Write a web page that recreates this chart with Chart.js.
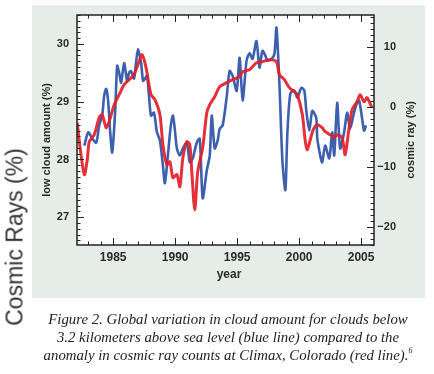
<!DOCTYPE html>
<html><head><meta charset="utf-8">
<script src="https://cdn.jsdelivr.net/npm/chart.js@4.4.1/dist/chart.umd.min.js"></script>
<style>
html,body{margin:0;padding:0;background:#fff;overflow:hidden;width:434px;height:374px;}
#wrap{position:relative;width:434px;height:374px;}
#panel{position:absolute;left:32px;top:5px;width:393px;height:293px;background:#e6ece8;}
#cv{position:absolute;left:0;top:0;}
#side{position:absolute;left:15px;top:237px;transform:translate(-50%,-50%) rotate(-90deg);white-space:nowrap;font:23px "Liberation Sans",Arial,sans-serif;color:#333;}
#cap{position:absolute;left:22px;top:310px;width:412px;text-align:center;font:italic 14.8px/18px "Liberation Serif","Times New Roman",serif;color:#222;white-space:nowrap;}
#cap sup{font-size:8px;vertical-align:top;line-height:10px;}
</style></head><body>
<div id="wrap">
<div id="panel"></div>
<canvas id="cv" width="434" height="290"></canvas>
<div id="side">Cosmic Rays (%)</div>
<div id="cap">Figure 2. Global variation in cloud amount for clouds below<br>3.2 kilometers above sea level (blue line) compared to the<br>anomaly in cosmic ray counts at Climax, Colorado (red line).<sup>6</sup></div>
</div>
<script>
// ---- data ----
const cloudYears = [1982.67,1982.99,1983.31,1983.63,1983.87,1984.11,1984.27,1984.43,1984.59,1984.75,1984.92,1985.16,1985.32,1985.48,1985.64,1985.88,1986.12,1986.28,1986.44,1986.68,1986.84,1987.00,1987.25,1987.41,1987.57,1987.73,1987.89,1988.05,1988.29,1988.53,1988.77,1989.01,1989.17,1989.41,1989.65,1989.82,1989.98,1990.14,1990.38,1990.62,1990.94,1991.18,1991.42,1991.74,1991.98,1992.22,1992.55,1992.79,1992.95,1993.19,1993.43,1993.59,1993.83,1994.15,1994.39,1994.63,1994.96,1995.20,1995.44,1995.76,1996.00,1996.24,1996.56,1996.80,1997.04,1997.29,1997.45,1997.77,1998.01,1998.17,1998.41,1998.65,1998.89,1999.05,1999.29,1999.61,1999.86,2000.18,2000.42,2000.58,2000.82,2001.06,2001.38,2001.46,2001.70,2001.86,2002.10,2002.43,2002.67,2002.83,2003.07,2003.31,2003.63,2003.87,2004.11,2004.43,2004.67,2004.84,2005.08,2005.24,2005.40];
const cloudPct = [28.24,28.47,28.36,28.29,28.59,28.76,29.10,29.22,29.02,28.50,28.12,28.84,29.62,29.50,29.33,29.67,29.36,29.50,29.53,29.40,29.67,29.91,29.67,29.36,29.40,29.45,29.10,28.76,28.81,28.47,28.33,27.90,27.59,28.07,28.59,28.76,28.50,28.19,28.07,28.19,28.29,27.95,28.02,28.29,28.36,27.33,27.81,28.07,28.76,28.19,28.33,28.53,28.59,29.07,29.53,29.45,29.19,29.76,29.02,29.71,29.84,29.74,30.05,29.59,29.88,29.79,29.71,29.74,29.83,30.28,29.31,27.98,27.47,28.45,29.14,29.19,29.07,29.24,29.19,28.84,28.50,28.84,28.72,28.38,28.07,27.95,28.24,28.02,28.47,28.07,28.98,28.19,28.47,28.81,28.53,28.81,28.98,29.02,28.71,28.50,28.59];
const crYears = [1982.10,1982.35,1982.67,1982.91,1983.07,1983.47,1983.87,1984.11,1984.43,1984.67,1985.08,1985.48,1985.88,1986.28,1986.68,1987.08,1987.33,1987.65,1988.05,1988.37,1988.77,1989.01,1989.33,1989.57,1989.82,1990.14,1990.38,1990.62,1990.94,1991.18,1991.34,1991.58,1991.82,1992.22,1992.55,1992.79,1993.19,1993.59,1994.15,1994.63,1995.20,1995.44,1996.00,1996.56,1997.04,1997.61,1998.17,1998.41,1998.81,1999.21,1999.61,1999.86,2000.26,2000.50,2000.66,2000.90,2001.14,2001.46,2001.86,2002.10,2002.51,2002.83,2003.07,2003.47,2003.71,2004.03,2004.27,2004.67,2004.92,2005.24,2005.48,2005.88];
const crPct = [-2.67,-7.17,-11.33,-8.83,-5.83,-4.67,-1.83,-1.33,-3.5,-2.5,0.33,2.0,3.67,4.5,5.33,7.5,8.67,6.5,2.0,1.17,-1.33,-6.33,-9.67,-9.17,-11.83,-11.33,-13.33,-8.5,-5.83,-6.33,-10.83,-17.17,-10.83,-6.83,-1.0,0.33,1.67,3.33,4.0,4.5,5.0,5.83,6.17,7.33,7.5,7.83,7.5,5.33,4.5,3.17,2.5,2.0,-1.33,-5.83,-7.17,-5.5,-3.83,-3.0,-3.5,-4.17,-4.67,-5.17,-4.67,-5.17,-8.0,-3.5,-0.5,0.83,2.0,0.83,1.5,-0.17];
const xTicks = [1985,1990,1995,2000,2005];
const leftTicks = [27,28,29,30];
const rightTicks = [-20,-10,0,10];
const xTitle = 'year';
const leftTitle = 'low cloud amount (%)';
const rightTitle = 'cosmic ray (%)';

const FONT = '"Liberation Sans",Arial,sans-serif';
const INK = '#2a2a2a';

const frame = {
  id: 'frame',
  beforeDraw(chart) {
    const {ctx, chartArea: a} = chart;
    ctx.save();
    ctx.fillStyle = '#ffffff';
    ctx.fillRect(a.left, a.top, a.right - a.left, a.bottom - a.top);
    ctx.restore();
  },
  afterDatasetsDraw(chart) {
    const {ctx, chartArea: a, scales} = chart;
    ctx.save();
    ctx.strokeStyle = '#222';
    ctx.lineWidth = 1;
    ctx.beginPath();
    const xs = scales.x;
    for (let yr = 1982; yr <= 2006; yr++) {
      const px = Math.round(xs.getPixelForValue(yr)) + 0.5;
      if (px < a.left + 1 || px > a.right - 1) continue;
      const len = yr % 5 === 0 ? 7 : 3.5;
      ctx.moveTo(px, a.bottom); ctx.lineTo(px, a.bottom - len);
      ctx.moveTo(px, a.top); ctx.lineTo(px, a.top + len);
    }
    const yl = scales.y;
    for (let k = 265; k <= 305; k++) {
      const v = k / 10;
      if (v < yl.min || v > yl.max) continue;
      const py = Math.round(yl.getPixelForValue(v)) + 0.5;
      const len = k % 10 === 0 ? 7 : 3.5;
      ctx.moveTo(a.left, py); ctx.lineTo(a.left + len, py);
    }
    const yr2 = scales.y2;
    for (let v = -23; v <= 15; v++) {
      if (v < yr2.min || v > yr2.max) continue;
      const py = Math.round(yr2.getPixelForValue(v)) + 0.5;
      const len = v % 10 === 0 ? 7 : 3.5;
      ctx.moveTo(a.right, py); ctx.lineTo(a.right - len, py);
    }
    ctx.stroke();
    ctx.lineWidth = 1.5;
    ctx.strokeRect(a.left, a.top, a.right - a.left, a.bottom - a.top);
    // axis titles
    ctx.fillStyle = INK;
    ctx.textAlign = 'center';
    ctx.textBaseline = 'middle';
    ctx.font = 'bold 12px ' + FONT;
    ctx.fillText(xTitle, 229, 275);
    ctx.font = 'bold 11px ' + FONT;
    ctx.save(); ctx.translate(47, 140); ctx.rotate(-Math.PI / 2); ctx.fillText(leftTitle, 0, 0); ctx.restore();
    ctx.save(); ctx.translate(411, 140); ctx.rotate(-Math.PI / 2); ctx.fillText(rightTitle, 0, 0); ctx.restore();
    ctx.restore();
  }
};

const tickFont = {family: FONT, size: 12, weight: 'bold'};
const yFont = {family: FONT, size: 11, weight: 'bold'};

new Chart(document.getElementById('cv'), {
  type: 'line',
  data: {
    datasets: [
      {
        label: 'cosmic ray',
        data: crYears.map((x, i) => ({x, y: crPct[i]})),
        yAxisID: 'y2',
        borderColor: 'rgba(226,32,40,0.92)',
        borderWidth: 3,
        pointRadius: 0,
        tension: 0.25,
        order: 0
      },
      {
        label: 'low cloud',
        data: cloudYears.map((x, i) => ({x, y: cloudPct[i]})),
        yAxisID: 'y',
        borderColor: '#3c5fb0',
        borderWidth: 2.6,
        pointRadius: 0,
        tension: 0.25,
        order: 1
      }
    ]
  },
  options: {
    responsive: false,
    animation: false,
    events: [],
    layout: {padding: {top: 15, left: 0, right: 38, bottom: 0}},
    plugins: {legend: {display: false}, tooltip: {enabled: false}},
    scales: {
      x: {
        type: 'linear', position: 'bottom', min: 1982.08, max: 2006.04,
        grid: {display: false, drawTicks: false}, border: {display: false},
        afterBuildTicks: s => { s.ticks = xTicks.map(v => ({value: v})); },
        afterFit: s => { s.height = 45; },
        ticks: {font: tickFont, color: INK, padding: 5, maxRotation: 0, autoSkip: false, callback: v => String(v)}
      },
      y: {
        type: 'linear', position: 'left', min: 26.52, max: 30.5,
        grid: {display: false, drawTicks: false}, border: {display: false},
        afterBuildTicks: s => { s.ticks = leftTicks.map(v => ({value: v})); },
        afterFit: s => { s.width = 77; },
        ticks: {font: yFont, color: INK, padding: 8, callback: v => String(v)}
      },
      y2: {
        type: 'linear', position: 'right', min: -23.05, max: 15.28,
        grid: {display: false, drawTicks: false}, border: {display: false},
        afterBuildTicks: s => { s.ticks = rightTicks.map(v => ({value: v})); },
        afterFit: s => { s.width = 22; },
        ticks: {font: yFont, color: INK, padding: 4, crossAlign: 'far',
          callback: v => v < 0 ? '\u2212' + Math.abs(v) : String(v)}
      }
    }
  },
  plugins: [frame]
});
</script>
</body></html>
